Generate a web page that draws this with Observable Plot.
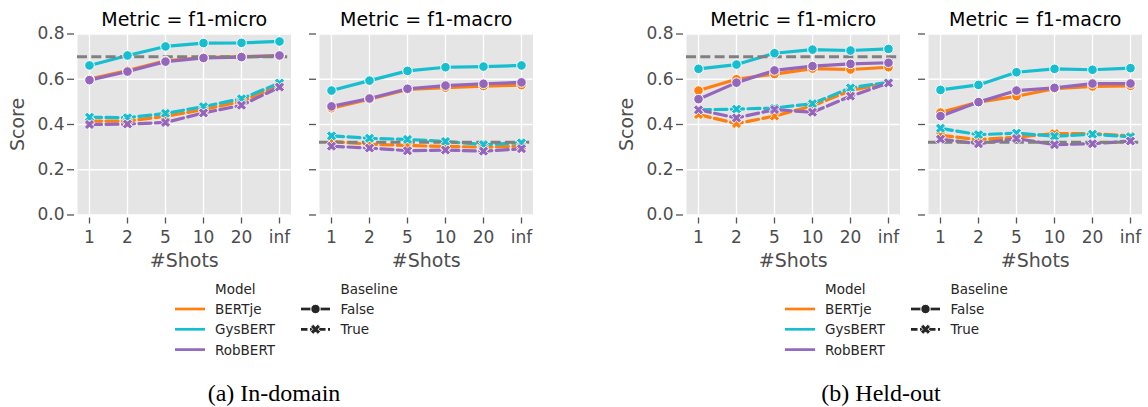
<!DOCTYPE html>
<html><head><meta charset="utf-8">
<script src="https://cdn.jsdelivr.net/npm/d3@7"></script>
<script src="https://cdn.jsdelivr.net/npm/@observablehq/plot@0.6"></script>
<style>
body{margin:0;background:#fff;}
#root{position:relative;width:1148px;height:407px;overflow:hidden;font-family:"DejaVu Sans";}
#root svg{position:absolute;top:0;}
</style></head><body><div id="root"></div>
<script>
// ---------- data ----------
const shots = ["1", "2", "5", "10", "20", "inf"];
const models = ["BERTje", "GysBERT", "RobBERT"];
const modelColors = ["#ff7f0e", "#17becf", "#9467bd"];
const yTicks = [0, 0.2, 0.4, 0.6, 0.8];
const baselineMicro = 0.699;
const baselineMacro = 0.321;

// (a) In-domain, f1-micro  (F = Baseline False, T = Baseline True)
const aMicro_BERTje_F  = [0.601, 0.638, 0.681, 0.696, 0.700, 0.703];
const aMicro_GysBERT_F = [0.661, 0.705, 0.745, 0.760, 0.761, 0.767];
const aMicro_RobBERT_F = [0.596, 0.634, 0.678, 0.694, 0.698, 0.705];
const aMicro_BERTje_T  = [0.415, 0.415, 0.436, 0.466, 0.502, 0.572];
const aMicro_GysBERT_T = [0.432, 0.430, 0.449, 0.479, 0.514, 0.583];
const aMicro_RobBERT_T = [0.400, 0.402, 0.409, 0.451, 0.485, 0.565];
// (a) In-domain, f1-macro
const aMacro_BERTje_F  = [0.472, 0.512, 0.555, 0.563, 0.570, 0.574];
const aMacro_GysBERT_F = [0.550, 0.594, 0.637, 0.653, 0.656, 0.661];
const aMacro_RobBERT_F = [0.480, 0.515, 0.558, 0.572, 0.580, 0.586];
const aMacro_BERTje_T  = [0.325, 0.313, 0.307, 0.303, 0.300, 0.305];
const aMacro_GysBERT_T = [0.350, 0.339, 0.334, 0.325, 0.311, 0.319];
const aMacro_RobBERT_T = [0.304, 0.296, 0.284, 0.287, 0.282, 0.293];
// (b) Held-out, f1-micro
const bMicro_BERTje_F  = [0.550, 0.600, 0.623, 0.647, 0.643, 0.653];
const bMicro_GysBERT_F = [0.646, 0.665, 0.715, 0.731, 0.727, 0.734];
const bMicro_RobBERT_F = [0.512, 0.585, 0.639, 0.658, 0.668, 0.673];
const bMicro_BERTje_T  = [0.444, 0.404, 0.437, 0.482, 0.550, 0.585];
const bMicro_GysBERT_T = [0.465, 0.468, 0.473, 0.492, 0.562, 0.587];
const bMicro_RobBERT_T = [0.465, 0.429, 0.466, 0.454, 0.525, 0.583];
// (b) Held-out, f1-macro
const bMacro_BERTje_F  = [0.453, 0.499, 0.525, 0.558, 0.568, 0.571];
const bMacro_GysBERT_F = [0.553, 0.575, 0.631, 0.646, 0.642, 0.649];
const bMacro_RobBERT_F = [0.437, 0.499, 0.550, 0.562, 0.581, 0.581];
const bMacro_BERTje_T  = [0.352, 0.333, 0.344, 0.360, 0.360, 0.350];
const bMacro_GysBERT_T = [0.383, 0.355, 0.362, 0.348, 0.357, 0.346];
const bMacro_RobBERT_T = [0.335, 0.315, 0.338, 0.311, 0.315, 0.327];

const titleMicro = "Metric = f1-micro";
const titleMacro = "Metric = f1-macro";
const xLabel = "#Shots";
const yLabel = "Score";
const legendModelTitle = "Model";
const legendBaseTitle = "Baseline";
const baselineValues = ["False", "True"];
const captions = ["(a) In-domain", "(b) Held-out"];

// ---------- helpers ----------
function rows(model, vals) {
  return vals.map((v, i) => ({shot: shots[i], score: v, model}));
}
// filled "X" marker (like matplotlib's "X")
const symbolX = {
  draw(ctx, size) {
    const r = Math.sqrt(size) * 0.62, w = r * 0.36;
    const pts = [[-w,-r],[w,-r],[w,-w],[r,-w],[r,w],[w,w],[w,r],[-w,r],[-w,w],[-r,w],[-r,-w],[-w,-w]];
    const s = Math.SQRT1_2;
    pts.forEach(([x, y], i) => {
      const X = (x - y) * s, Y = (x + y) * s;
      i ? ctx.lineTo(X, Y) : ctx.moveTo(X, Y);
    });
    ctx.closePath();
  }
};

const panels = [
  {left: 77,  title: titleMicro, base: baselineMicro, showY: true,
   F: [aMicro_BERTje_F, aMicro_GysBERT_F, aMicro_RobBERT_F], T: [aMicro_BERTje_T, aMicro_GysBERT_T, aMicro_RobBERT_T]},
  {left: 319, title: titleMacro, base: baselineMacro, showY: false,
   F: [aMacro_BERTje_F, aMacro_GysBERT_F, aMacro_RobBERT_F], T: [aMacro_BERTje_T, aMacro_GysBERT_T, aMacro_RobBERT_T]},
  {left: 686, title: titleMicro, base: baselineMicro, showY: true,
   F: [bMicro_BERTje_F, bMicro_GysBERT_F, bMicro_RobBERT_F], T: [bMicro_BERTje_T, bMicro_GysBERT_T, bMicro_RobBERT_T]},
  {left: 928, title: titleMacro, base: baselineMacro, showY: false,
   F: [bMacro_BERTje_F, bMacro_GysBERT_F, bMacro_RobBERT_F], T: [bMacro_BERTje_T, bMacro_GysBERT_T, bMacro_RobBERT_T]}
];

const root = document.getElementById("root");
const ML = 77, PW = 213.5, MR = 12;
const axisColor = "#4d4d4d";

panels.forEach(p => {
  const modelMarks = models.flatMap((m, i) => {
    const f = rows(m, p.F[i]), t = rows(m, p.T[i]);
    return [
      Plot.line(f, {x: "shot", y: "score", stroke: "model", strokeWidth: 3.2}),
      Plot.line(t, {x: "shot", y: "score", stroke: "model", strokeWidth: 3.2, strokeDasharray: "12,4.5"}),
    ];
  });
  const dotMarks = models.flatMap((m, i) => {
    const f = rows(m, p.F[i]), t = rows(m, p.T[i]);
    return [
      Plot.dot(f, {x: "shot", y: "score", fill: "model", r: 4.8, stroke: "white", strokeWidth: 1}),
      Plot.dot(t, {x: "shot", y: "score", fill: "model", symbol: symbolX, r: 4.8, stroke: "white", strokeWidth: 0.8})
    ];
  });
  const chart = Plot.plot({
    width: ML + PW + MR, height: 280,
    marginLeft: ML, marginRight: MR, marginTop: 33.5, marginBottom: 65.5,
    style: {background: "transparent", fontFamily: "DejaVu Sans", overflow: "visible"},
    x: {type: "point", domain: shots, padding: 0.25},
    y: {domain: [0, 0.8]},
    color: {domain: models, range: modelColors},
    marks: [
      Plot.frame({fill: "#e5e5e5", stroke: "none"}),
      Plot.gridY({ticks: yTicks, stroke: "white", strokeOpacity: 1, strokeWidth: 1.3}),
      Plot.gridX({stroke: "white", strokeOpacity: 1, strokeWidth: 1.3}),
      Plot.axisY({ticks: yTicks, tickFormat: p.showY ? (d => d.toFixed(1)) : (() => ""),
        tickSize: 7, tickPadding: 3, dx: -3, fontSize: 17, stroke: "#555", fill: axisColor, strokeWidth: 1.3, label: null}),
      Plot.axisX({tickSize: 6, tickPadding: 6.5, dy: 3, fontSize: 17, stroke: "#555", fill: axisColor, strokeWidth: 1.3, label: null}),
      ...modelMarks,
      Plot.ruleY([p.base], {stroke: "#808080", strokeWidth: 3, strokeDasharray: "10,4.3"}),
      ...dotMarks,
      Plot.text([p.title], {text: d => d, frameAnchor: "top", dy: -8.5, lineAnchor: "bottom", fontSize: 19, fill: "black"}),
      Plot.text([xLabel], {text: d => d, frameAnchor: "bottom", dy: 52, lineAnchor: "bottom", fontSize: 19, fill: axisColor}),
      ...(p.showY ? [Plot.text([yLabel], {text: d => d, frameAnchor: "left", dx: -60, rotate: -90, textAnchor: "middle", lineAnchor: "middle", fontSize: 19, fill: axisColor})] : [])
    ]
  });
  chart.style.left = (p.left - ML) + "px";
  chart.style.top = "0px";
  root.appendChild(chart);
});

// ---------- legends & captions ----------
const svg = d3.select(root).append("svg").attr("width", 1148).attr("height", 407)
  .style("left", "0px").style("top", "0px").style("font-family", "DejaVu Sans");
const legendLefts = [150, 760];
const captionCenters = [274, 881];
legendLefts.forEach((lx, k) => {
  const g = svg.append("g").attr("transform", `translate(${lx},270)`);
  const txt = (x, y, s) => g.append("text").attr("x", x).attr("y", y).attr("dominant-baseline", "central")
    .attr("font-size", 13.5).attr("fill", "#262626").text(s);
  txt(65, 18.5, legendModelTitle);
  models.forEach((m, i) => {
    const y = 39 + i * 20.3;
    g.append("line").attr("x1", 25).attr("x2", 55).attr("y1", y).attr("y2", y)
      .attr("stroke", modelColors[i]).attr("stroke-width", 2.7);
    txt(65, y, m);
  });
  txt(190.5, 18.5, legendBaseTitle);
  baselineValues.forEach((b, i) => {
    const y = 39 + i * 20.3;
    g.append("line").attr("x1", 151).attr("x2", 180).attr("y1", y).attr("y2", y)
      .attr("stroke", "#262626").attr("stroke-width", 2.7)
      .attr("stroke-dasharray", i ? "6.5,2.5" : null);
    if (i === 0) {
      g.append("circle").attr("cx", 165.5).attr("cy", y).attr("r", 4.7).attr("fill", "#262626").attr("stroke", "white").attr("stroke-width", 1);
    } else {
      const path = d3.path(); symbolX.draw(path, 4.7 * 4.7 * Math.PI);
      g.append("path").attr("d", path.toString()).attr("transform", `translate(165.5,${y})`)
        .attr("fill", "#262626").attr("stroke", "white").attr("stroke-width", 0.8);
    }
    txt(190.5, y, b);
  });
  svg.append("text").attr("x", captionCenters[k]).attr("y", 400.5).attr("text-anchor", "middle")
    .attr("font-family", "'Liberation Serif', 'Times New Roman', serif").attr("font-size", 24).attr("fill", "black")
    .text(captions[k]);
});
</script></body></html>
